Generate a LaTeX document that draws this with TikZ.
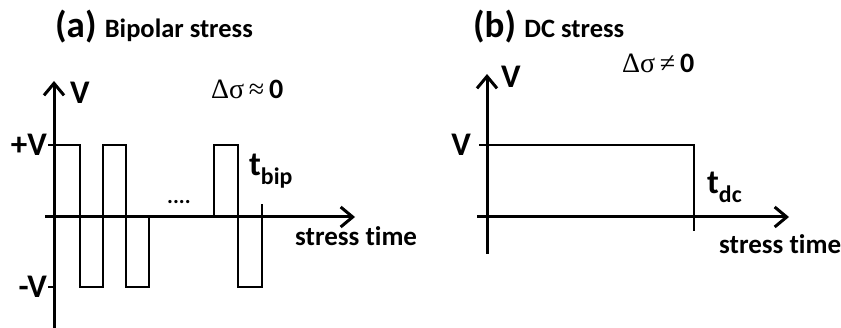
\documentclass[tikz,border=0pt]{standalone}
\usepackage{fontspec}
\setmainfont[Ligatures=NoCommon]{Carlito}
\newfontfamily\symfont{Liberation Serif}
\usetikzlibrary{arrows.meta}

\begin{document}
\begin{tikzpicture}[
  x=1pt, y=-1pt,
  >={Straight Barb[length=12pt,width=20pt]},
  axis/.style={->, line width=3pt},
  tick/.style={line width=2.8pt},
  wave/.style={line width=2.8pt, line join=miter},
  lbl/.style={font=\fontsize{27}{27}\selectfont\bfseries, inner sep=0pt},
  vlbl/.style={font=\fontsize{33}{33}\selectfont\bfseries, inner sep=0pt},
  big/.style={font=\fontsize{34}{34}\selectfont\bfseries, inner sep=0pt},
  delta/.style={font=\fontsize{28}{28}\selectfont, inner sep=0pt},
  head/.style={inner sep=0pt, anchor=base west, font=\bfseries},
]
\useasboundingbox (0,0) rectangle (841,328);

% (a) bipolar stress
\node[head] (titleA) at (55,38)
  {\fontsize{37}{37}\selectfont(a) \fontsize{26.5}{26.5}\selectfont Bipolar stress};

\coordinate (yA0) at (54,330);
\coordinate (yA1) at (54,81);
\coordinate (xA0) at (45,217);
\coordinate (xA1) at (355,217);
\draw[axis] (yA0) -- (yA1);
\draw[axis] (xA0) -- (xA1);

\draw[tick] (48,145) -- (54,145);
\draw[tick] (48,287) -- (54,287);

\draw[wave] (54,145) -- (80,145) -- (80,287) -- (103,287) -- (103,145)
  -- (126,145) -- (126,287) -- (149,287) -- (149,217);
\draw[wave] (214,217) -- (214,145) -- (238,145) -- (238,287)
  -- (262,287) -- (262,204);

\node[vlbl, anchor=east] (plusV)  at (47,145) {+V};
\node[vlbl, anchor=east] (minusV) at (47,287) {-V};
\node[vlbl] (axVA) at (80,93) {V};
\node[font=\fontsize{22}{22}\selectfont\bfseries, inner sep=0pt] (dotsA) at (179,202) {....};
\node[delta, anchor=base west] (sigA) at (211,99)
  {{\symfont Δσ\,≈\,}{\bfseries 0}};
\node[big, anchor=base west] (tbip) at (249,176) {t\textsubscript{bip}};
\node[lbl, anchor=base west] (timeA) at (295,246) {stress time};

% (b) DC stress
\node[head] (titleB) at (473,38)
  {\fontsize{37}{37}\selectfont(b) \fontsize{26.5}{26.5}\selectfont DC stress};

\coordinate (yB0) at (487,254);
\coordinate (yB1) at (487,74);
\coordinate (xB0) at (477,217);
\coordinate (xB1) at (789,217);
\draw[axis] (yB0) -- (yB1);
\draw[axis] (xB0) -- (xB1);

\draw[tick] (479,145) -- (487,145);
\draw[wave] (487,145) -- (694,145) -- (694,231);

\node[vlbl, anchor=east] (levV) at (471,145) {V};
\node[vlbl] (axVB) at (511,77) {V};
\node[delta, anchor=base west] (sigB) at (622,73)
  {{\symfont Δσ\,≠\,}{\bfseries 0}};
\node[big, anchor=base west] (tdc) at (707,194) {t\textsubscript{dc}};
\node[lbl, anchor=base west] (timeB) at (719,254) {stress time};

\end{tikzpicture}
\end{document}
